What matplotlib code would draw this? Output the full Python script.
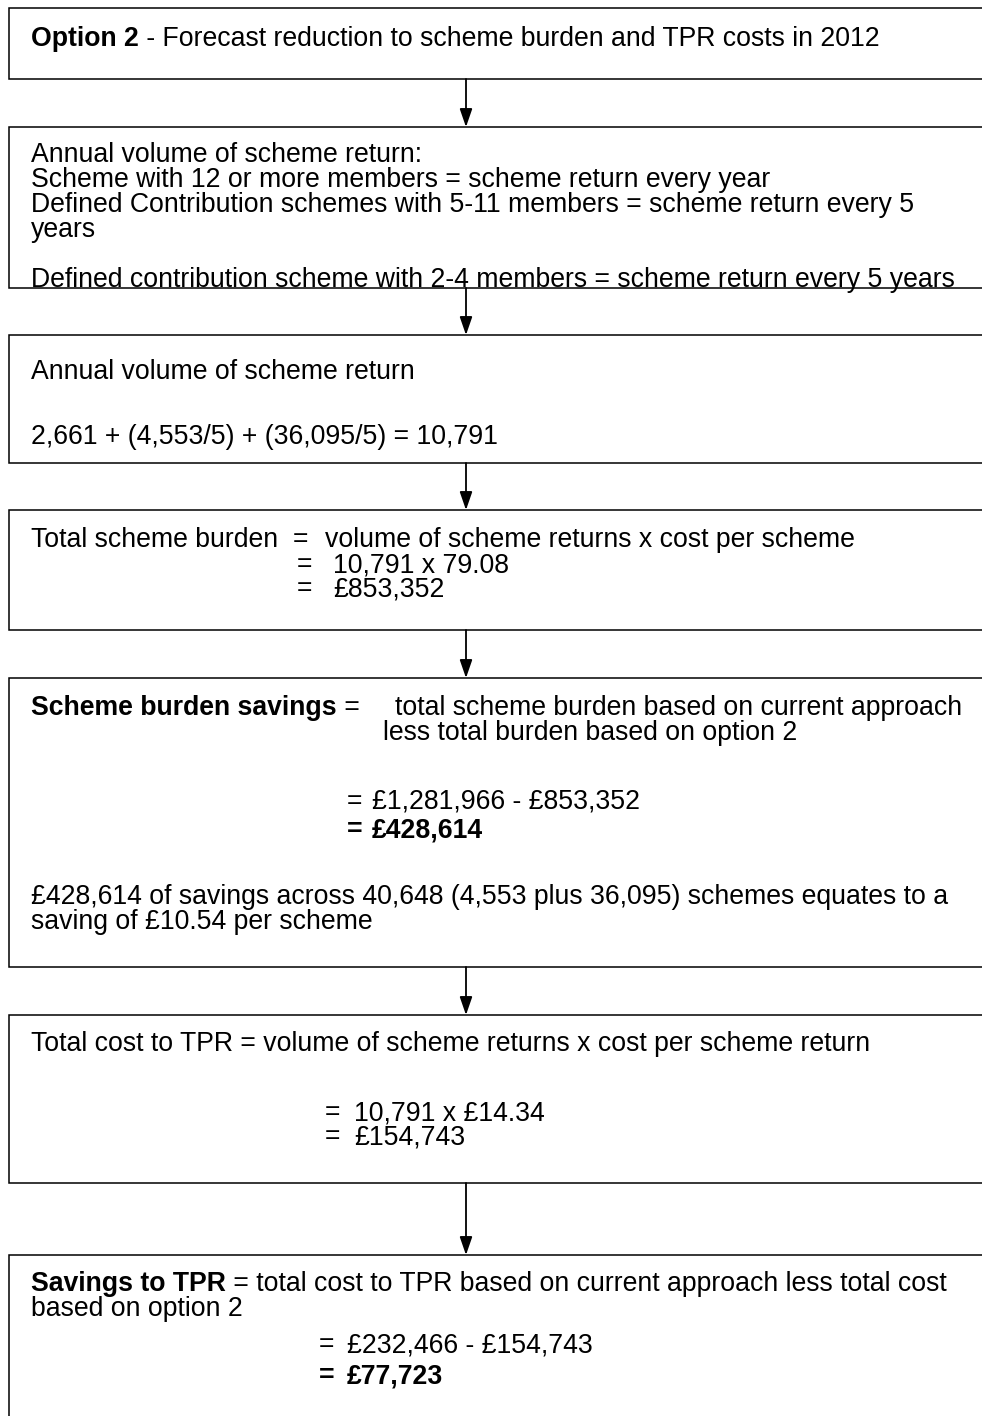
import matplotlib
matplotlib.use('Agg')
import matplotlib.pyplot as plt
from matplotlib.patches import Rectangle

# ---------------- content (text of each box, line by line; segments: text, bold) ----------------
box1_lines = [[("Option 2", True), (" - Forecast reduction to scheme burden and TPR costs in 2012", False)]]
box2_lines = [
    [("Annual volume of scheme return:", False)],
    [("Scheme with 12 or more members = scheme return every year", False)],
    [("Defined Contribution schemes with 5-11 members = scheme return every 5", False)],
    [("years", False)],
    [("Defined contribution scheme with 2-4 members = scheme return every 5 years", False)],
]
box3_lines = [
    [("Annual volume of scheme return", False)],
    [("2,661 + (4,553/5) + (36,095/5) = 10,791", False)],
]
box4_lines = [
    [("Total scheme burden", False), ("=", False), ("volume of scheme returns x cost per scheme", False)],
    [("=", False), ("10,791 x 79.08", False)],
    [("=", False), ("\u00a3853,352", False)],
]
box5_lines = [
    [("Scheme burden savings", True), (" =", False), ("total scheme burden based on current approach", False)],
    [("less total burden based on option 2", False)],
    [("=", False), ("\u00a31,281,966 - \u00a3853,352", False)],
    [("=", True), ("\u00a3428,614", True)],
    [("\u00a3428,614 of savings across 40,648 (4,553 plus 36,095) schemes equates to a", False)],
    [("saving of \u00a310.54 per scheme", False)],
]
box6_lines = [
    [("Total cost to TPR = volume of scheme returns x cost per scheme return", False)],
    [("=", False), ("10,791 x \u00a314.34", False)],
    [("=", False), ("\u00a3154,743", False)],
]
box7_lines = [
    [("Savings to TPR", True), (" = total cost to TPR based on current approach less total cost", False)],
    [("based on option 2", False)],
    [("=", False), ("\u00a3232,466 - \u00a3154,743", False)],
    [("=", True), ("\u00a377,723", True)],
]
all_lines = [box1_lines, box2_lines, box3_lines, box4_lines, box5_lines, box6_lines, box7_lines]

# ---------------- layout ----------------
W, H = 982, 1416
box_top = [8, 127, 335, 510, 678, 1015, 1255]
box_bot = [79, 288, 463, 630, 967, 1183, 1430]
box_left, box_right = 9, 995
arrow_x = 466

# x of each segment (None = follows previous segment)
seg_x = [
    [[31, None]],
    [[31], [31], [31], [31], [31]],
    [[31], [31]],
    [[31, 293, 325], [297, 333], [297, 333]],
    [[31, None, 395], [383], [347, 372], [347, 372], [31], [31]],
    [[325, None][:0] + [31], [325, 354], [325, 354]],
    [[31, None], [31], [319, 347], [319, 347]],
]
seg_x[5][0] = [31]
line_y = [
    [46],
    [162, 187, 212, 237, 287],
    [379, 444],
    [547, 572, 596],
    [715, 740, 809, 837, 904, 929],
    [1051, 1120, 1144],
    [1291, 1316, 1352, 1383],
]

FONT = ['Liberation Sans', 'DejaVu Sans']
FS = 19.2

fig = plt.figure(figsize=(W / 100, H / 100), dpi=100)
ax = fig.add_axes([0, 0, 1, 1])
ax.set_xlim(0, W)
ax.set_ylim(H, 0)
ax.axis('off')
renderer = fig.canvas.get_renderer()

for i in range(len(box_top)):
    rect = Rectangle((box_left, box_top[i]), box_right - box_left, box_bot[i] - box_top[i],
                     facecolor='white', edgecolor='black', linewidth=1.1, zorder=1)
    ax.add_patch(rect)
    clip = Rectangle((box_left, box_top[i]), box_right - box_left, box_bot[i] - box_top[i],
                     transform=ax.transData, visible=False)
    ax.add_patch(clip)
    for j, segs in enumerate(all_lines[i]):
        y = line_y[i][j]
        x = None
        for k, (text, bold) in enumerate(segs):
            sx = seg_x[i][j][k]
            if sx is not None:
                x = sx
            t = ax.text(x, y, text, fontsize=FS, family=FONT,
                        fontweight='bold' if bold else 'normal',
                        ha='left', va='baseline', color='black', zorder=3)
            t.set_clip_path(clip)
            bb = t.get_window_extent(renderer=renderer)
            x = x + bb.width

for i in range(len(box_top) - 1):
    ax.annotate('', xy=(arrow_x, box_top[i + 1]), xytext=(arrow_x, box_bot[i]),
                arrowprops=dict(arrowstyle='-|>,head_length=1.1,head_width=0.38',
                                color='black', lw=1.3, shrinkA=0, shrinkB=0),
                zorder=2)

fig.savefig('out.png', dpi=100, facecolor='white')
